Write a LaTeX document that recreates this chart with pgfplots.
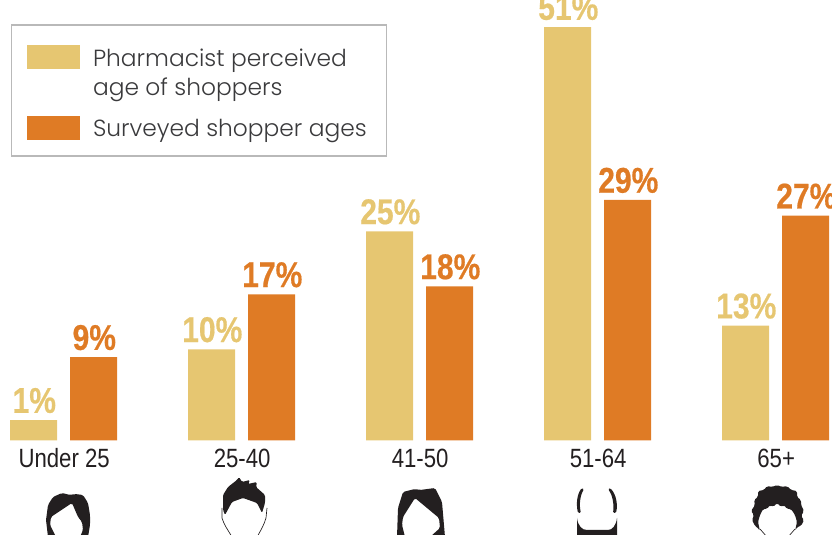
\documentclass[border=0pt]{standalone}
\usepackage{pgfplots}
\pgfplotsset{compat=1.18}
\usepackage{fontspec}
\setmainfont{Liberation Sans}[FakeStretch=0.84, BoldFeatures={FakeBold=0.5}]
\newfontfamily\legendfont{Poppins}[UprightFont=* Light]
\definecolor{barlight}{HTML}{E6C671}
\definecolor{barorange}{HTML}{DF7B25}
\definecolor{inkdark}{HTML}{231F20}
\definecolor{legendink}{HTML}{3A3A3C}
\definecolor{legendedge}{HTML}{B9B9B9}
\begin{document}
\begin{tikzpicture}[x=1pt,y=1pt]
\clip (0,0) rectangle (624,401.25);
\begin{axis}[
  at={(0pt,71.25pt)}, anchor=south west,
  scale only axis, width=624pt, height=330pt,
  xmin=-0.35674, xmax=4.31742,
  ymin=-1.54, ymax=54.44,
  clip=false,
  ybar, bar width=35.25pt,
  axis line style={draw=none},
  ytick=\empty,
  xtick={0,1,2,3,4},
  xticklabels={Under 25,25-40,41-50,51-64,65+},
  major tick length=0pt,
  xticklabel style={font=\fontsize{19.8pt}{22pt}\selectfont, text=inkdark, yshift=-3pt, xshift=0.5pt},
  legend style={
    at={(8.25pt,312pt)}, anchor=north west,
    draw=legendedge, line width=1.1pt,
    font=\legendfont\fontsize{17.5pt}{22pt}\selectfont,
    text=legendink, inner xsep=11.5pt, inner ysep=11pt,
    row sep=33.25pt,
    cells={anchor=base west},
    /tikz/every odd column/.append style={column sep=7.5pt},
  },
  legend image code/.code={\fill[#1] (0pt,-2pt) rectangle (40pt,16pt);},
  every node near coord/.append style={font=\bfseries\fontsize{26.8pt}{28pt}\selectfont, inner sep=0pt, yshift=5pt, xshift=0.6pt},
  nodes near coords={\pgfmathprintnumber[assume math mode=true]{\pgfplotspointmeta}\%},
]
% percentage bars, one series for each age source
\addplot[fill=barlight, draw=none, bar shift=-22.5pt, text=barlight] coordinates {(0,1) (1,10) (2,25) (3,51) (4,13)};
\addlegendentry{\vtop{\hbox{\rule{0pt}{18pt}Pharmacist perceived}\hbox{age of shoppers}}}
\addplot[fill=barorange, draw=none, bar shift=22.5pt, text=barorange] coordinates {(0,9) (1,17) (2,18) (3,29) (4,27)};
\addlegendentry{Surveyed shopper ages\rule[-6.5pt]{1.5pt}{0pt}}
% the value axis starts below zero, so each bar has a short foot under its zero line
\addplot[fill=barlight, draw=none, bar shift=-22.5pt, forget plot, nodes near coords={}] coordinates {(0,-1.6) (1,-1.6) (2,-1.6) (3,-1.6) (4,-1.6)};
\addplot[fill=barorange, draw=none, bar shift=22.5pt, forget plot, nodes near coords={}] coordinates {(0,-1.6) (1,-1.6) (2,-1.6) (3,-1.6) (4,-1.6)};
\end{axis}
% head icons under the age groups, in a pixel-sized grid measured from the top left
\begin{scope}[shift={(0,401.25)}, x=0.75pt, y=-0.75pt, fill=inkdark, draw=inkdark]
  \fill[rounded corners=1.2pt, even odd rule] (48,537) -- (46,520) -- (48,505) -- (53,497) -- (62,493) -- (70,495) -- (75,494) -- (83,495) -- (88,503) -- (90,515) -- (90,525) -- (88,537) -- (80,537) -- (83,530) -- (82,522) -- (78,517) -- (72,503) -- (51,517) -- (50,525) -- (53,531) -- (56,537) -- cycle;
  \fill[rounded corners=1pt] (223,510) -- (223,495) -- (228,487) -- (237,480) -- (239,477) -- (242,482) -- (250,480) -- (248,484) -- (257,482) -- (256,487) -- (265,495) -- (265,503) -- (262,513) -- (257,503) -- (243,498) -- (232,502) -- (225,515) -- cycle;
  \draw[line width=0.5pt] (222,508) -- (222,518) .. controls (224,525) and (228,530) .. (232,537);
  \draw[line width=0.5pt] (267,508) -- (266,518) .. controls (264,525) and (261,530) .. (257,537);
  \fill[rounded corners=1.2pt] (397,537) -- (398,508) -- (403,492) -- (415,489) -- (420,490) -- (435,488) -- (442,502) -- (445,537) -- (430,537) -- (440,528) -- (439,518) -- (415,498) -- (403,517) -- (402,525) -- (405,537) -- cycle;
  \fill[rounded corners=1pt] (582,488) .. controls (577,494) and (576,504) .. (578,513) -- (581,513) .. controls (579,505) and (580,496) .. (584,489) -- cycle;
  \fill[rounded corners=1pt] (610,488) .. controls (616,494) and (618,504) .. (616,513) -- (613,513) .. controls (614,505) and (613,496) .. (608,489) -- cycle;
  \fill (577,518) -- (577,537) -- (617,537) -- (617,518) .. controls (616,526) and (612,530) .. (608,530) -- (587,530) .. controls (582,530) and (578,526) .. (577,518) -- cycle;
  \fill[rounded corners=1.2pt] (760,531) -- (757,527) -- (755,526) -- (752,520) -- (754,515) -- (751,511) -- (755,505) -- (754,500) -- (758,497) -- (758,491) -- (764,490) -- (767,486) -- (772,487) -- (777,485) -- (782,487) -- (787,486) -- (791,490) -- (797,491) -- (797,497) -- (801,500) -- (801,505) -- (804,511) -- (801,516) -- (804,520) -- (801,526) -- (797,527) -- (795,531) -- (797,522) -- (795,515) -- (791,509) -- (787,509) -- (784,505) -- (781,507) -- (777,503) -- (773,507) -- (770,505) -- (767,509) -- (763,509) -- (760,515) -- (758,522) -- cycle;
  \draw[line width=0.5pt] (760,529) -- (767,537);
  \draw[line width=0.5pt] (795,529) -- (788,537);
\end{scope}
\end{tikzpicture}
\end{document}
